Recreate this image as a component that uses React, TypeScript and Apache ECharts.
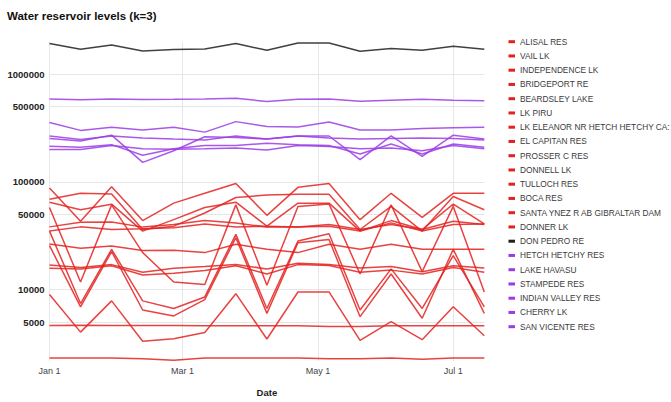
import React, { useEffect, useRef } from 'react';
import * as echarts from 'echarts';

// Sample dates (every 14 days, 2020)
const dates = [
  '2020-01-01', '2020-01-15', '2020-01-29', '2020-02-12', '2020-02-26',
  '2020-03-11', '2020-03-25', '2020-04-08', '2020-04-22', '2020-05-06',
  '2020-05-20', '2020-06-03', '2020-06-17', '2020-07-01', '2020-07-15',
];
const xTickDates = ['2020-01-01', '2020-03-01', '2020-05-01', '2020-07-01'];
const yTickValues = [5000, 10000, 50000, 100000, 500000, 1000000];

// Red group
const alisalRes = [2330, 2330, 2330, 2290, 2220, 2330, 2330, 2330, 2330, 2290, 2290, 2330, 2260, 2330, 2330];
const vailLk = [35000, 7440, 23700, 7880, 6700, 8570, 32600, 6700, 28300, 33100, 6480, 15600, 6700, 20700, 6940];
const independenceLk = [17000, 16100, 17100, 14500, 15800, 16400, 17100, 15600, 17600, 17100, 15900, 16400, 14700, 16700, 15900];
const bridgeportRe = [38300, 42300, 42600, 38100, 40200, 43800, 41700, 38100, 38100, 40200, 36200, 40200, 36200, 43200, 40200];
const beardsleyLake = [88100, 43200, 90400, 43800, 63600, 78500, 96900, 49000, 89100, 96900, 44700, 78500, 47000, 78500, 78500];
const lkPiru = [15800, 15600, 16700, 13700, 14200, 15100, 16700, 14000, 17100, 16800, 14500, 15200, 14000, 16100, 14500];
const lkEleanor = [26500, 24200, 25500, 23100, 23200, 22100, 26400, 23700, 22100, 26400, 23700, 26400, 23700, 23700, 23700];
const elCapitanRes = [64900, 55200, 62200, 35000, 44700, 58000, 64900, 38900, 63600, 63600, 35000, 43800, 36200, 62200, 40800];
const prosserCRes = [25700, 6940, 22600, 6480, 5710, 8100, 30400, 6030, 27300, 29300, 5620, 14000, 5430, 23700, 6030];
const donnellLk = [58000, 11800, 61300, 22100, 11800, 11200, 61300, 11000, 59300, 62600, 14000, 61300, 14700, 59300, 9500];
const tullochRes = [69200, 78500, 77300, 36200, 38900, 51500, 71700, 75700, 76800, 76800, 36200, 59300, 35000, 73200, 55200];
const bocaRes = [35000, 38300, 36200, 36700, 37500, 40800, 38100, 38900, 38100, 38900, 35000, 41700, 35000, 40200, 40800];
const santaYnez = [4650, 4680, 4650, 4650, 4650, 4620, 4620, 4620, 4620, 4560, 4560, 4620, 4620, 4620, 4620];
const donnerLk = [9040, 4040, 7880, 3320, 3510, 4010, 9190, 3490, 9530, 9530, 3390, 5060, 3440, 6940, 3740];
// Black
const donPedroRe = [1923000, 1705000, 1867000, 1644000, 1694000, 1715000, 1923000, 1669000, 1947000, 1947000, 1634000, 1730000, 1669000, 1816000, 1705000];
// Purple group
const hetchHetchyRes = [356000, 301000, 322000, 304000, 322000, 290000, 363000, 327000, 324000, 360000, 304000, 304000, 314000, 318000, 322000];
const lakeHavasu = [590000, 578000, 590000, 582000, 585000, 590000, 598000, 558000, 585000, 590000, 561000, 573000, 585000, 573000, 566000];
const stampedeRes = [200000, 200000, 218000, 203000, 201000, 203000, 207000, 198000, 218000, 213000, 203000, 207000, 195000, 218000, 203000];
const indianValleyRes = [253000, 240000, 272000, 152000, 195000, 263000, 259000, 250000, 267000, 267000, 161000, 268000, 173000, 272000, 250000];
const cherryLk = [267000, 248000, 267000, 256000, 250000, 245000, 267000, 250000, 267000, 256000, 250000, 253000, 256000, 253000, 245000];
const sanVicenteRes = [214000, 210000, 222000, 177000, 203000, 218000, 218000, 229000, 221000, 218000, 182000, 225000, 182000, 225000, 210000];

const RED = '#e42120';
const BLACK = '#1f1f1f';
const PURPLE = '#9b3be6';

const seriesDefs = [
  { name: 'ALISAL RES', data: alisalRes, color: RED },
  { name: 'VAIL LK', data: vailLk, color: RED },
  { name: 'INDEPENDENCE LK', data: independenceLk, color: RED },
  { name: 'BRIDGEPORT RE', data: bridgeportRe, color: RED },
  { name: 'BEARDSLEY LAKE', data: beardsleyLake, color: RED },
  { name: 'LK PIRU', data: lkPiru, color: RED },
  { name: 'LK ELEANOR NR HETCH HETCHY CA:', data: lkEleanor, color: RED },
  { name: 'EL CAPITAN RES', data: elCapitanRes, color: RED },
  { name: 'PROSSER C RES', data: prosserCRes, color: RED },
  { name: 'DONNELL LK', data: donnellLk, color: RED },
  { name: 'TULLOCH RES', data: tullochRes, color: RED },
  { name: 'BOCA RES', data: bocaRes, color: RED },
  { name: 'SANTA YNEZ R AB GIBRALTAR DAM', data: santaYnez, color: RED },
  { name: 'DONNER LK', data: donnerLk, color: RED },
  { name: 'DON PEDRO RE', data: donPedroRe, color: BLACK },
  { name: 'HETCH HETCHY RES', data: hetchHetchyRes, color: PURPLE },
  { name: 'LAKE HAVASU', data: lakeHavasu, color: PURPLE },
  { name: 'STAMPEDE RES', data: stampedeRes, color: PURPLE },
  { name: 'INDIAN VALLEY RES', data: indianValleyRes, color: PURPLE },
  { name: 'CHERRY LK', data: cherryLk, color: PURPLE },
  { name: 'SAN VICENTE RES', data: sanVicenteRes, color: PURPLE },
];

const MONTHS = ['Jan', 'Feb', 'Mar', 'Apr', 'May', 'Jun', 'Jul', 'Aug', 'Sep', 'Oct', 'Nov', 'Dec'];
const FONT = '"Liberation Sans", Arial, Helvetica, sans-serif';

function toTs(s: string): number {
  const [y, m, d] = s.split('-').map(Number);
  return Date.UTC(y, m - 1, d);
}

export default function App() {
  const ref = useRef<HTMLDivElement>(null);

  useEffect(() => {
    if (!ref.current) return;
    const chart = echarts.init(ref.current, undefined, { renderer: 'svg' });
    const xTicks = xTickDates.map(toTs);
    const option: any = {
      animation: false,
      backgroundColor: '#ffffff',
      title: {
        text: 'Water reservoir levels (k=3)',
        left: 7,
        top: 10,
        padding: 0,
        textStyle: { fontSize: 11.5, fontWeight: 'bold', color: '#111', fontFamily: FONT },
      },
      legend: {
        orient: 'vertical',
        left: 508.5,
        top: 36.7,
        padding: 0,
        itemWidth: 6.5,
        itemHeight: 3,
        itemGap: 4.25,
        icon: 'rect',
        textStyle: { fontSize: 8.3, color: '#3a3a3a', lineHeight: 10, fontFamily: FONT },
        data: seriesDefs.map((s) => s.name),
      },
      grid: { left: 49.5, right: 186.7, top: 42, bottom: 37 },
      xAxis: {
        type: 'value',
        min: toTs(dates[0]),
        max: toTs(dates[dates.length - 1]),
        axisLine: { show: false },
        axisTick: { show: false, customValues: xTicks },
        axisLabel: {
          customValues: xTicks,
          formatter: (v: number) => {
            const d = new Date(v);
            return MONTHS[d.getUTCMonth()] + ' ' + d.getUTCDate();
          },
          fontSize: 9,
          color: '#444',
          margin: 5,
          fontFamily: FONT,
        },
        splitLine: { show: true, lineStyle: { color: '#e6e6e6', width: 1 } },
        name: 'Date',
        nameLocation: 'middle',
        nameGap: 26,
        nameTextStyle: { fontSize: 9.5, fontWeight: 'bold', color: '#222', fontFamily: FONT },
      },
      yAxis: {
        type: 'log',
        logBase: 10,
        min: 2180,
        max: 1990000,
        axisLine: { show: false },
        axisTick: { show: false, customValues: yTickValues },
        axisLabel: {
          customValues: yTickValues,
          formatter: (v: number) => String(Math.round(v)),
          fontSize: 9.5,
          fontWeight: 'bold',
          color: '#222',
          margin: 5,
          fontFamily: FONT,
        },
        splitLine: { show: true, lineStyle: { color: '#e6e6e6', width: 1 } },
      },
      series: seriesDefs.map((s) => ({
        name: s.name,
        type: 'line',
        data: s.data.map((v, i) => [toTs(dates[i]), v]),
        showSymbol: false,
        symbol: 'none',
        color: s.color,
        lineStyle: { color: s.color, width: 1.5, opacity: 0.85 },
        emphasis: { disabled: true },
        silent: true,
      })),
    };
    chart.setOption(option);
    return () => {
      chart.dispose();
    };
  }, []);

  return (
    <div
      ref={ref}
      style={{ position: 'fixed', left: 0, top: 0, width: 671, height: 402, background: '#fff' }}
    />
  );
}
